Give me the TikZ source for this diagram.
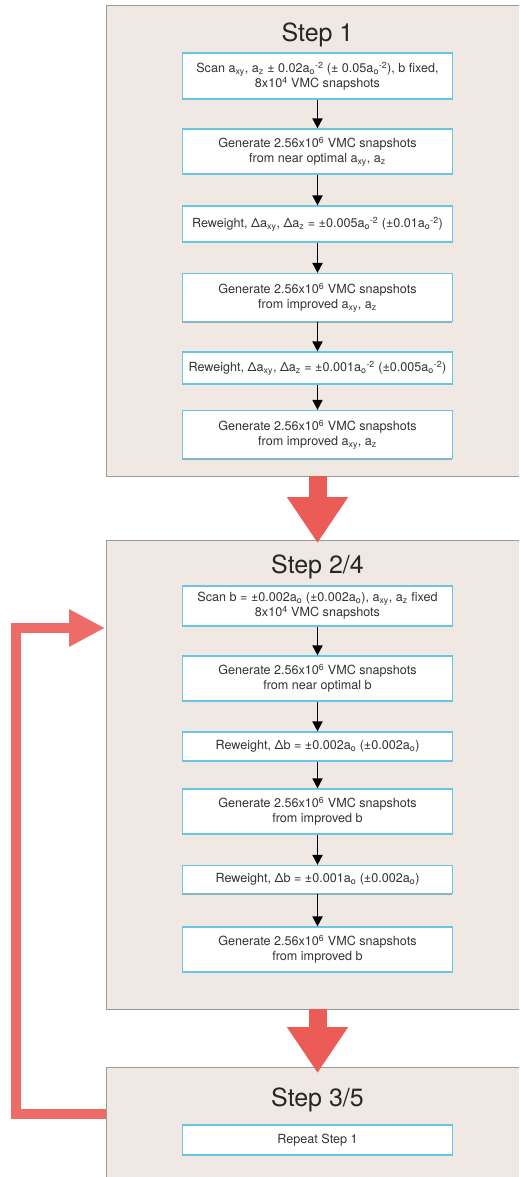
\documentclass[tikz,border=0pt]{standalone}
\usepackage{fontspec}
\setmainfont{TeX Gyre Heros}
\usepackage{tikz}
\usetikzlibrary{arrows.meta,shadows}

% a few shorthands for the parameters
\newcommand{\axy}{a\textsubscript{xy}}
\newcommand{\az}{a\textsubscript{z}}
\newcommand{\ao}{a\textsubscript{o}}
\newcommand{\aoinv}{a\textsubscript{o}\textsuperscript{-2}}

\begin{document}
\begin{tikzpicture}
		[x=1pt,y=-1pt,line join=miter,
		%Styles
		panel/.style={fill=panelcolor,inner sep=0pt,anchor=north west,minimum width=413pt},
		panel line/.style={draw=black!40,line width=0.8pt},
		title text/.style={font=\fontsize{25}{30}\selectfont,text=black!85,anchor=base},
		stepbox/.style={draw=boxcolor,line width=1.2pt,fill=white,text=black!80,
			minimum width=270pt,minimum height=#1,inner sep=1pt,align=center,
			font=\fontsize{12.6}{15}\selectfont,
			drop shadow={shadow xshift=-1pt,shadow yshift=-1pt,opacity=1,fill=black!35}},
		stepbox/.default=45pt,
		flow/.style={-{Triangle[length=10pt,width=10pt]},line width=1.8pt},
		big arrow/.style={draw=bigred,line width=18pt,-{Triangle[length=46pt,width=58pt]}},
		loop arrow/.style={draw=loopred,line width=9.5pt,-{Triangle[length=36pt,width=35pt]}}
		]
		
		%Colors
		\definecolor{panelcolor}{RGB}{239,232,227}
		\definecolor{boxcolor}{RGB}{108,196,229}
		\definecolor{bigred}{RGB}{235,92,87}
		\definecolor{loopred}{RGB}{238,108,103}
		
		\useasboundingbox (0,0) rectangle (519,1177);
		
		%Loop back from step 3/5 to step 2/4
		\coordinate (loopin) at (105,628);
		\coordinate (loopout) at (108,1114);
		\draw[loop arrow] (loopout) -- ++(-92,0) |- (loopin);
		
		%The panels
		\node[panel,minimum height=471pt] (step1) at (106,5) {};
		\node[panel,minimum height=469pt] (step24) at (106,540) {};
		\node[panel,minimum height=112pt] (step35) at (106,1067) {};
		\foreach \p in {step1,step24,step35}
			\draw[panel line] (\p.north east) -- (\p.north west) -- (\p.south west) -- (\p.south east);
		
		\node[title text] at (317.5,42) {Step 1};
		\node[title text] at (317.5,573) {Step 2/4};
		\node[title text] at (317.5,1106) {Step 3/5};
		
		%Step 1
		\node[stepbox=46pt] (b1) at (317.5,76) {Scan \axy, \az{} ± 0.02\aoinv{} (± 0.05\aoinv), b fixed,\\8x10\textsuperscript{4} VMC snapshots};
		\node[stepbox] (b2) at (317.5,151.5) {Generate 2.56x10\textsuperscript{6} VMC snapshots\\from near optimal \axy, \az};
		\node[stepbox=36pt] (b3) at (317.5,224) {Reweight, Δ\axy, Δ\az{} = ±0.005\aoinv{} (±0.01\aoinv)};
		\node[stepbox=48pt] (b4) at (317.5,297.5) {Generate 2.56x10\textsuperscript{6} VMC snapshots\\from improved \axy, \az};
		\node[stepbox=32pt] (b5) at (317.5,368) {Reweight, Δ\axy, Δ\az{} = ±0.001\aoinv{} (±0.005\aoinv)};
		\node[stepbox=48pt] (b6) at (317.5,434.5) {Generate 2.56x10\textsuperscript{6} VMC snapshots\\from improved \axy, \az};
		
		%Step 2/4
		\node[stepbox=40pt] (b7) at (317.5,606) {Scan b = ±0.002\ao{} (±0.002\ao), \axy, \az{} fixed\\8x10\textsuperscript{4} VMC snapshots};
		\node[stepbox] (b8) at (317.5,678.5) {Generate 2.56x10\textsuperscript{6} VMC snapshots\\from near optimal b};
		\node[stepbox=29pt] (b9) at (317.5,746.5) {Reweight, Δb = ±0.002\ao{} (±0.002\ao)};
		\node[stepbox] (b10) at (317.5,811.5) {Generate 2.56x10\textsuperscript{6} VMC snapshots\\from improved b};
		\node[stepbox=28pt] (b11) at (317.5,879.5) {Reweight, Δb = ±0.001\ao{} (±0.002\ao)};
		\node[stepbox] (b12) at (317.5,949.5) {Generate 2.56x10\textsuperscript{6} VMC snapshots\\from improved b};
		
		%Step 3/5
		\node[stepbox=30pt] (b13) at (317.5,1140) {Repeat Step 1};
		
		\foreach \a/\b in {b1/b2,b2/b3,b3/b4,b4/b5,b5/b6,b7/b8,b8/b9,b9/b10,b10/b11,b11/b12}
			\draw[flow] (\a) -- (\b);
		
		%From one step to the next
		\draw[big arrow] (b6 |- step1.south) -- ([yshift=-3pt]b6 |- step24.north);
		\draw[big arrow] (b12 |- step24.south) -- ([yshift=-6pt]b12 |- step35.north);
	\end{tikzpicture}
\end{document}
